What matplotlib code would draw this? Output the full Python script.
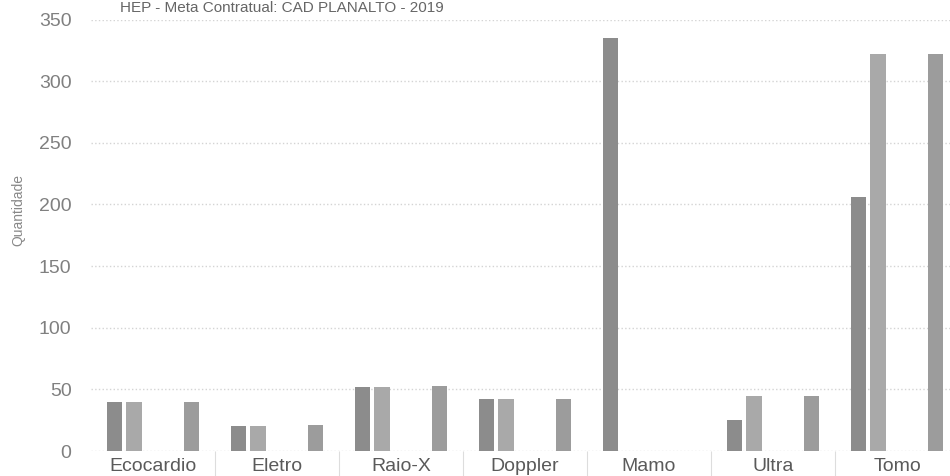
import numpy as np
import matplotlib
matplotlib.use("Agg")
import matplotlib.pyplot as plt

# Values (five bar slots per exam type)
categories = ["Ecocardio", "Eletro", "Raio-X", "Doppler", "Mamo", "Ultra", "Tomo"]
serie1 = [40, 20, 52, 42, 335, 25, 206]
serie2 = [40, 20, 52, 42, 0, 45, 322]
serie3 = [0, 0, 0, 0, 0, 0, 0]
serie4 = [0, 0, 0, 0, 0, 0, 0]
serie5 = [40, 21, 53, 42, 0, 45, 322]
yticks = [0, 50, 100, 150, 200, 250, 300, 350]

series = [serie1, serie2, serie3, serie4, serie5]
colors = ["#8c8c8c", "#a9a9a9", "#a0a0a0", "#a0a0a0", "#9c9c9c"]

plt.rcParams["font.family"] = ["Liberation Sans", "DejaVu Sans"]

fig = plt.figure(figsize=(9.5, 4.76), dpi=100)
W, H = 950, 476
ax = fig.add_axes([91 / W, 25 / H, (950 - 91) / W, (451 - 19.5) / H])

step = 6.5
centers = np.arange(len(categories)) * step
for j, (vals, c) in enumerate(zip(series, colors)):
    ax.bar(centers + (j - 2), vals, width=0.8, color=c, zorder=3)

ax.set_ylim(0, 350)
ax.set_xlim(-step / 2, (950 - 153) / (124 / step))
ax.set_yticks(yticks)
ax.grid(axis="y", color="#d4d4d4", linestyle=":", linewidth=1, zorder=0)
for s in ax.spines.values():
    s.set_visible(False)

ax.set_xticks(centers)
ax.set_xticklabels(categories)
ax.set_xticks(centers[:-1] + step / 2, minor=True)
ax.tick_params(axis="x", which="major", length=0, pad=5, labelsize=14, labelcolor="#5a5a5a")
ax.tick_params(axis="x", which="minor", length=18, width=0.8, color="#dddddd", direction="out")
ax.tick_params(axis="y", length=0, pad=14, labelsize=14, labelcolor="#808080")

fig.text(18 / W, 1 - 210 / H, "Quantidade", rotation=90, ha="center", va="center",
         fontsize=10, color="#888888")
fig.text(120 / W, 1 - 1 / H, "HEP - Meta Contratual: CAD PLANALTO - 2019", ha="left",
         va="top", fontsize=11, color="#666666")

fig.savefig("out.png", dpi=100, facecolor="white")
